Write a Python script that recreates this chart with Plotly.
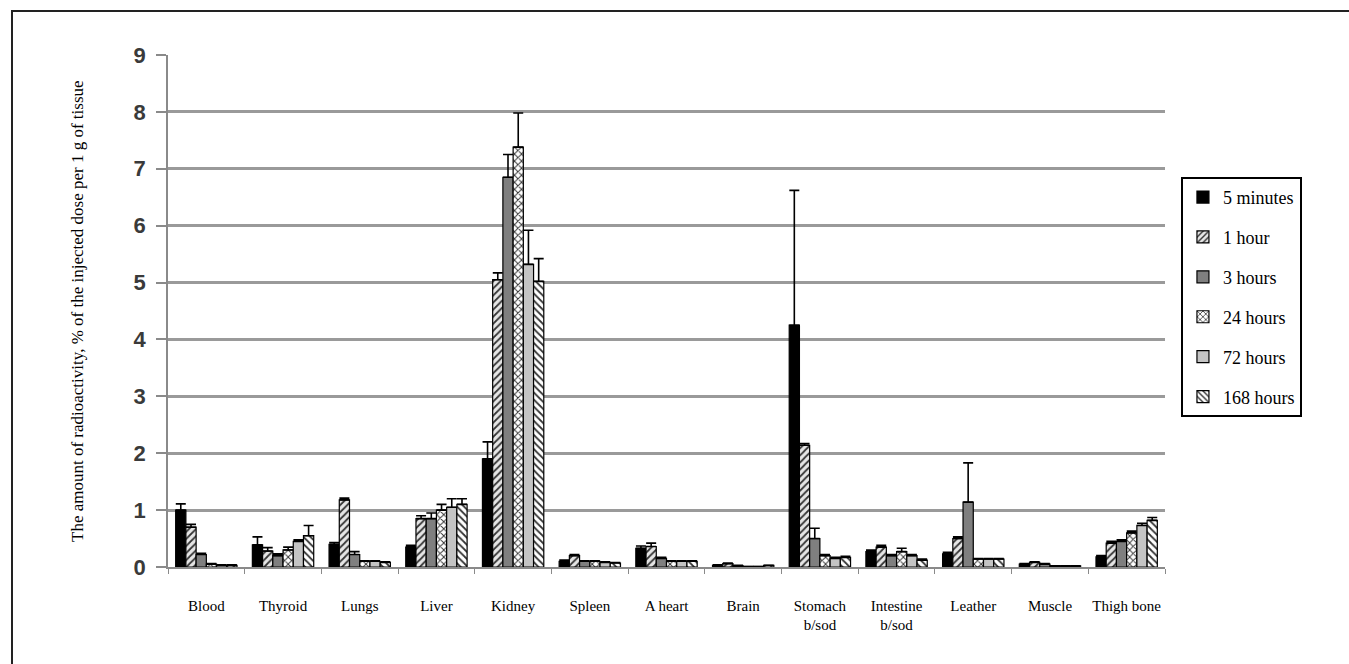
import plotly.graph_objects as go

# Tissues (x categories)
tissues = ["Blood", "Thyroid", "Lungs", "Liver", "Kidney", "Spleen", "A heart",
           "Brain", "Stomach<br>b/sod", "Intestine<br>b/sod", "Leather", "Muscle",
           "Thigh bone"]

# Uptake (% of injected dose per 1 g of tissue) and upper error at each time point
min5 = [1.00, 0.39, 0.40, 0.35, 1.90, 0.10, 0.33, 0.03, 4.25, 0.27, 0.23, 0.05, 0.18]
min5_err = [0.11, 0.14, 0.03, 0.03, 0.30, 0.02, 0.04, 0.01, 2.37, 0.03, 0.03, 0.01, 0.02]

h1 = [0.70, 0.28, 1.18, 0.85, 5.05, 0.20, 0.36, 0.06, 2.14, 0.35, 0.50, 0.08, 0.42]
h1_err = [0.05, 0.06, 0.03, 0.05, 0.12, 0.02, 0.06, 0.01, 0.03, 0.03, 0.03, 0.01, 0.03]

h3 = [0.22, 0.20, 0.22, 0.85, 6.85, 0.10, 0.15, 0.02, 0.50, 0.20, 1.14, 0.05, 0.45]
h3_err = [0.02, 0.03, 0.05, 0.10, 0.40, 0.01, 0.02, 0.01, 0.18, 0.02, 0.69, 0.01, 0.03]

h24 = [0.05, 0.30, 0.10, 1.00, 7.38, 0.10, 0.10, 0.01, 0.20, 0.27, 0.14, 0.02, 0.60]
h24_err = [0.01, 0.05, 0.01, 0.10, 0.60, 0.01, 0.01, 0.00, 0.02, 0.06, 0.01, 0.00, 0.03]

h72 = [0.03, 0.45, 0.10, 1.05, 5.32, 0.08, 0.10, 0.01, 0.15, 0.20, 0.14, 0.02, 0.73]
h72_err = [0.01, 0.03, 0.01, 0.15, 0.60, 0.01, 0.01, 0.00, 0.02, 0.02, 0.01, 0.00, 0.04]

h168 = [0.03, 0.55, 0.08, 1.10, 5.02, 0.07, 0.10, 0.03, 0.17, 0.12, 0.14, 0.02, 0.82]
h168_err = [0.01, 0.18, 0.01, 0.10, 0.40, 0.01, 0.01, 0.00, 0.02, 0.02, 0.01, 0.00, 0.05]

series_names = ["5 minutes", "1 hour", "3 hours", "24 hours", "72 hours", "168 hours"]
series_values = [min5, h1, h3, h24, h72, h168]
series_errors = [min5_err, h1_err, h3_err, h24_err, h72_err, h168_err]

# Grayscale fills: (background colour, pattern shape)
fills = [
    ("#000000", ""),
    ("#e6e6e6", "/"),
    ("#7f7f7f", ""),
    ("#ffffff", "x"),
    ("#c4c4c4", ""),
    ("#ffffff", "\\"),
]

serif = "Liberation Serif"
sans = "Liberation Sans"

fig = go.Figure()
for i, (name, vals, errs) in enumerate(zip(series_names, series_values, series_errors)):
    bg, shape = fills[i]
    marker = dict(color=bg, line=dict(color="#000000", width=1.2))
    if shape:
        marker["pattern"] = dict(shape=shape, fgcolor="#333333", bgcolor=bg,
                                 size=5, solidity=0.35, fillmode="replace")
    fig.add_trace(go.Bar(
        x=tissues, y=vals, name=name, legendgroup=name,
        marker=marker,
        error_y=dict(type="data", array=errs, arrayminus=[0] * len(errs),
                     symmetric=False, color="#000000", thickness=1.6, width=5),
    ))

fig.update_layout(
    width=1349, height=664,
    margin=dict(l=168, r=184, t=55, b=97),
    paper_bgcolor="white", plot_bgcolor="white",
    barmode="group", bargap=0.2, bargroupgap=0.0,
    showlegend=True,
    legend=dict(
        x=1.016, y=0.762, xanchor="left", yanchor="top",
        bordercolor="#000000", borderwidth=2, bgcolor="white",
        font=dict(family=serif, size=18, color="#000000"),
        traceorder="grouped", tracegroupgap=13.5,
        itemwidth=30, entrywidth=150, entrywidthmode="pixels",
    ),
    font=dict(family=serif, color="#000000"),
)

fig.update_yaxes(
    range=[0, 9], dtick=1, tick0=0,
    showgrid=True, gridcolor="#9a9a9a", gridwidth=2.5,
    zeroline=False,
    showline=True, linecolor="#8a8a8a", linewidth=1.5,
    ticks="outside", ticklen=10, tickcolor="#8a8a8a", tickwidth=1.5,
    tickfont=dict(family=sans, size=22, color="#3a3a3a", weight="bold"),
    ticklabelstandoff=6,
)

fig.update_xaxes(
    type="category",
    showline=True, linecolor="#8a8a8a", linewidth=1.5,
    ticks="outside", tickson="boundaries", ticklen=5, tickcolor="#8a8a8a",
    showgrid=False, tickangle=0,
    tickfont=dict(family=serif, size=15, color="#000000"),
    ticklabelstandoff=24,
)

# Rotated y-axis title
fig.add_annotation(
    xref="paper", yref="paper", x=(77 - 168) / 997, y=0.5,
    xanchor="center", yanchor="middle",
    text="The amount of radioactivity, % of the injected dose per 1 g of tissue",
    textangle=-90, showarrow=False,
    font=dict(family=serif, size=17, color="#000000"),
)

# Outer frame around the chart
fig.add_shape(
    type="rect", xref="paper", yref="paper",
    x0=(12 - 168) / 997, x1=(1362 - 168) / 997,
    y0=(567 - 690) / 512, y1=(567 - 11) / 512,
    line=dict(color="#222222", width=2), fillcolor="rgba(0,0,0,0)", layer="below",
)

fig.write_html("out.html")
